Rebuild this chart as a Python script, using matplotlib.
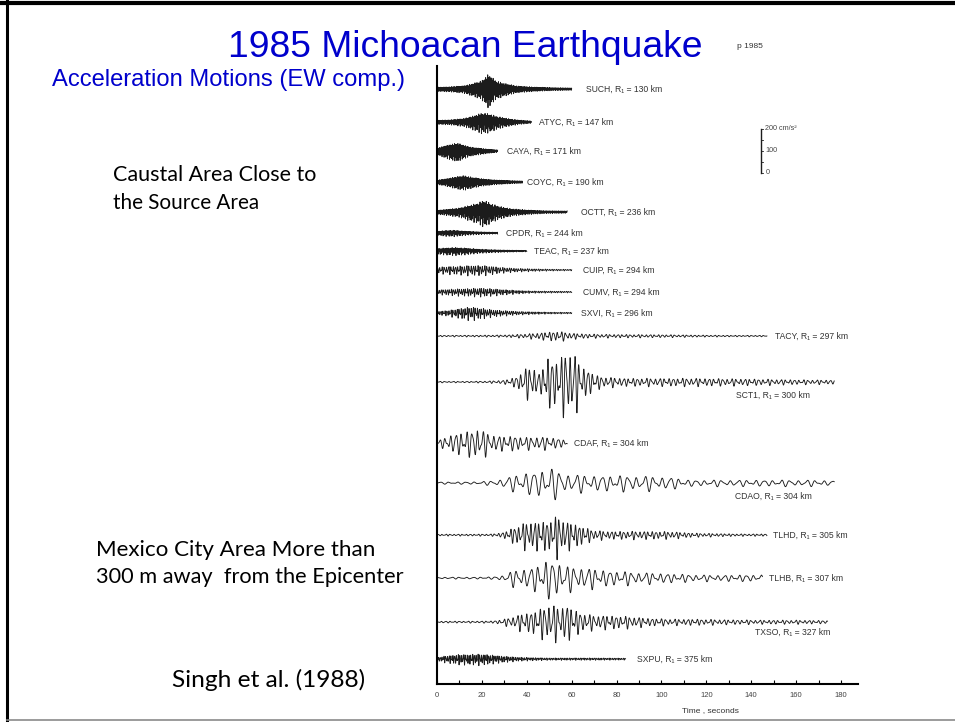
import numpy as np
import matplotlib
matplotlib.use("Agg")
import matplotlib.pyplot as plt
from matplotlib.lines import Line2D

# ---------------------------------------------------------------- data
stations = ["SUCH", "ATYC", "CAYA", "COYC", "OCTT", "CPDR", "TEAC", "CUIP", "CUMV",
            "SXVI", "TACY", "SCT1", "CDAF", "CDAO", "TLHD", "TLHB", "TXSO", "SXPU"]
distances_km = [130, 147, 171, 190, 236, 244, 237, 294, 294,
                296, 297, 300, 304, 304, 305, 307, 327, 375]

# dominant period of each record (s)
periods_s = [0.30, 0.35, 0.30, 0.30, 0.35, 0.45, 0.50, 1.0, 0.9,
             0.9, 1.8, 2.0, 2.4, 3.8, 1.8, 3.2, 2.0, 0.8]

# acceleration envelopes: knot times (s) and peak amplitude (cm/s^2)
such_t = [0, 6, 12, 16, 20, 23, 26, 30, 36, 44, 52, 60]
such_a = [9, 11, 16, 27, 41, 73, 41, 27, 14, 9, 6, 5]
atyc_t = [0, 6, 12, 16, 20, 23, 27, 32, 37, 42]
atyc_a = [9, 11, 18, 30, 45, 41, 27, 16, 9, 5]
caya_t = [0, 3, 6, 9, 12, 15, 19, 23, 27]
caya_a = [14, 25, 34, 41, 30, 20, 14, 9, 5]
coyc_t = [0, 4, 8, 12, 16, 20, 25, 30, 34, 38]
coyc_a = [9, 16, 25, 32, 23, 16, 11, 8, 6, 5]
octt_t = [0, 5, 10, 14, 18, 21, 24, 28, 33, 40, 48, 58]
octt_a = [9, 14, 20, 32, 43, 59, 41, 27, 16, 10, 6, 5]
cpdr_t = [0, 4, 8, 12, 17, 22, 27]
cpdr_a = [9, 13, 14, 10, 7, 5, 4]
teac_t = [0, 4, 8, 13, 18, 24, 30, 35, 40]
teac_a = [13, 16, 18, 15, 10, 7, 5, 4, 3]
cuip_t = [0, 5, 10, 15, 20, 25, 30, 36, 42, 50, 60]
cuip_a = [14, 18, 20, 23, 23, 18, 12, 8, 6, 4, 3]
cumv_t = [0, 5, 10, 15, 20, 25, 30, 36, 42, 50, 60]
cumv_a = [10, 14, 16, 18, 20, 16, 12, 8, 5, 4, 3]
sxvi_t = [0, 4, 8, 12, 16, 20, 25, 30, 36, 42, 50, 60]
sxvi_a = [8, 12, 18, 27, 30, 24, 16, 12, 8, 6, 4, 3]
tacy_t = [0, 20, 30, 36, 42, 48, 54, 60, 66, 75, 90, 105, 120, 135, 147]
tacy_a = [3, 4, 5, 8, 12, 18, 23, 14, 10, 8, 7, 6, 4, 3, 3]
sct1_t = [0, 15, 24, 30, 35, 39, 43, 46, 49, 52, 55, 58, 61, 64, 67, 71, 76,
          85, 100, 115, 130, 145, 160, 177]
sct1_a = [3, 3, 5, 9, 23, 64, 77, 36, 127, 109, 114, 164, 146, 82, 64, 32, 23,
          18, 18, 18, 16, 14, 11, 9]
cdaf_t = [0, 3, 6, 9, 12, 15, 18, 21, 25, 30, 35, 40, 45, 50, 54, 58]
cdaf_a = [9, 23, 41, 50, 55, 59, 77, 55, 41, 32, 36, 27, 32, 27, 23, 14]
cdao_t = [0, 10, 20, 26, 30, 34, 38, 42, 46, 50, 54, 58, 62, 68, 75, 85, 95,
          105, 112, 120, 135, 150, 165, 177]
cdao_a = [5, 5, 7, 11, 23, 36, 45, 55, 64, 73, 59, 45, 41, 36, 36, 36, 32,
          27, 14, 14, 14, 14, 14, 11]
tlhd_t = [0, 15, 25, 30, 34, 38, 42, 46, 50, 54, 58, 62, 66, 70, 76, 85, 95,
          105, 115, 125, 135, 147]
tlhd_a = [4, 4, 5, 14, 36, 55, 68, 64, 73, 96, 64, 55, 36, 23, 18, 18, 18,
          16, 9, 7, 5, 5]
tlhb_t = [0, 15, 25, 30, 34, 38, 42, 46, 50, 54, 58, 62, 66, 70, 76, 82, 90,
          100, 110, 120, 132, 140, 145]
tlhb_a = [4, 4, 5, 14, 36, 45, 50, 68, 91, 82, 55, 55, 50, 45, 36, 32, 27,
          23, 18, 14, 14, 16, 14]
txso_t = [0, 15, 25, 30, 34, 38, 42, 46, 50, 54, 58, 62, 66, 70, 76, 85, 95,
          105, 115, 130, 145, 160, 174]
txso_a = [4, 4, 5, 14, 27, 41, 50, 64, 91, 73, 86, 55, 41, 32, 32, 27, 18,
          14, 14, 11, 9, 9, 7]
sxpu_t = [0, 3, 6, 10, 14, 18, 22, 26, 30, 36, 42, 50, 60, 70, 84]
sxpu_a = [7, 14, 18, 23, 23, 25, 23, 18, 14, 9, 7, 5, 5, 5, 4]

env_times = [such_t, atyc_t, caya_t, coyc_t, octt_t, cpdr_t, teac_t, cuip_t, cumv_t,
             sxvi_t, tacy_t, sct1_t, cdaf_t, cdao_t, tlhd_t, tlhb_t, txso_t, sxpu_t]
env_amps = [such_a, atyc_a, caya_a, coyc_a, octt_a, cpdr_a, teac_a, cuip_a, cumv_a,
            sxvi_a, tacy_a, sct1_a, cdaf_a, cdao_a, tlhd_a, tlhb_a, txso_a, sxpu_a]

time_ticks = list(range(0, 181, 20))
scale_values = [0, 100, 200]

# ---------------------------------------------------------------- layout
W, H, DPI = 955, 722, 100
AX_L, AX_R, AX_T, AX_B = 437, 858, 66, 684       # panel edges (px)
T_MAX = 187.6                                    # time at right end of the axis
GAL_PER_PX = 200.0 / 44.0                        # vertical scale of the traces

row_px = [89, 122, 151, 182, 212, 233, 251, 270, 292, 313, 336, 382,
          443, 483, 535, 578, 622, 659]
label_t = [66.4, 45.5, 31.2, 40.1, 64.2, 30.7, 43.2, 65.1, 65.1, 64.2,
           150.6, 133.2, 61.1, 132.8, 149.7, 148.0, 141.7, 89.1]
label_dy_px = [0] * 18
label_dy_px[11] = 13
label_dy_px[13] = 13
label_dy_px[16] = 10

BLUE = "#0000CC"
INK = "#1c1c1c"

fig = plt.figure(figsize=(W / DPI, H / DPI), dpi=DPI)
fig.patch.set_facecolor("white")
renderer = fig.canvas.get_renderer()


def fig_text(s, x_px, y_px, width_px=None, ha="left", **kw):
    t = fig.text(x_px / W, 1 - y_px / H, s, ha=ha, va="baseline", **kw)
    if width_px is not None:
        bb = t.get_window_extent(renderer)
        t.set_fontsize(t.get_fontsize() * width_px / bb.width)
    return t


# slide frame
fig.add_artist(Line2D([0, 1], [1 - 2.5 / H] * 2, color="black", lw=3.0,
                      transform=fig.transFigure))
fig.add_artist(Line2D([7 / W] * 2, [1 - 720 / H, 1], color="black", lw=2.2,
                      transform=fig.transFigure))
fig.add_artist(Line2D([7 / W, 1], [1 - 720 / H] * 2, color="#8a8a8a", lw=1.2,
                      transform=fig.transFigure))

# slide texts
fig_text("1985 Michoacan Earthquake", 465, 57, width_px=474, ha="center",
         color=BLUE, family="Liberation Sans", fontsize=26)
fig_text("p 1985", 737, 48, color="#333333", family="Liberation Sans", fontsize=6)
fig_text("Acceleration Motions (EW comp.)", 52, 86, width_px=354,
         color=BLUE, family="Liberation Sans", fontsize=17)
fig_text("Caustal Area Close to", 113, 181, width_px=204,
         color="black", family="Lato", fontsize=16)
fig_text("the Source Area", 113, 209, width_px=146,
         color="black", family="Lato", fontsize=16)
fig_text("Mexico City Area More than", 96, 556, width_px=280,
         color="black", family="Lato", fontsize=16)
fig_text("300 m away  from the Epicenter", 96, 583, width_px=309,
         color="black", family="Lato", fontsize=16)
fig_text("Singh et al. (1988)", 172, 687, width_px=193,
         color="black", family="Lato", fontsize=18)

# ---------------------------------------------------------------- seismograms
ax = fig.add_axes([AX_L / W, 1 - AX_B / H, (AX_R - AX_L) / W, (AX_B - AX_T) / H])
ax.set_xlim(0, T_MAX)
ax.set_ylim(0, (AX_B - AX_T) * GAL_PER_PX)
ax.set_facecolor("none")


def carrier(t, period, k):
    w = 2 * np.pi / period
    ph = 0.9 * k
    c = (np.sin(w * t + ph) * (0.72 + 0.28 * np.sin(w * t / 2.7 + 1.3 + ph))
         + 0.33 * np.sin(1.63 * w * t + 2.1 + ph))
    return c / 1.08


for k, (name, dist) in enumerate(zip(stations, distances_km)):
    tk = np.asarray(env_times[k], float)
    ak = np.asarray(env_amps[k], float)
    dt = min(periods_s[k] / 12.0, 0.05)
    t = np.arange(0, tk[-1] + dt / 2, dt)
    base = (AX_B - row_px[k]) * GAL_PER_PX
    acc = np.interp(t, tk, ak) * carrier(t, periods_s[k], k)
    ax.plot(t, base + acc, color=INK, lw=0.65, solid_joinstyle="round")
    ax.text(label_t[k], base - label_dy_px[k] * GAL_PER_PX,
            f"{name}, R\u2081 = {dist} km", ha="left", va="center",
            fontsize=6.2, color="#333333", family=["Liberation Sans", "DejaVu Sans"])

# amplitude scale bar
bar_t = (761 - AX_L) * T_MAX / (AX_R - AX_L)
bar_base = (AX_B - 173) * GAL_PER_PX
ax.plot([bar_t, bar_t], [bar_base, bar_base + scale_values[-1]], color=INK, lw=1.0)
for v in range(0, 201, 50):
    ax.plot([bar_t, bar_t + 1.0], [bar_base + v] * 2, color=INK, lw=0.6)
for v in scale_values:
    lab = f"{v} cm/s\u00b2" if v == scale_values[-1] else f"{v}"
    ax.text(bar_t + 2.0, bar_base + v, lab, ha="left", va="center",
            fontsize=5.2, color="#444444", family=["Liberation Sans", "DejaVu Sans"])

# axes styling
for side in ("top", "right"):
    ax.spines[side].set_visible(False)
ax.spines["left"].set_linewidth(1.5)
ax.spines["bottom"].set_linewidth(1.5)
ax.set_xticks(time_ticks)
ax.set_xticks(np.arange(0, 190, 10), minor=True)
ax.set_yticks([])
ax.tick_params(axis="x", which="both", direction="in", length=3, width=0.8,
               pad=6, labelsize=5.5, labelcolor="#444444")
for lab in ax.get_xticklabels():
    lab.set_family("Liberation Sans")
fig_text("Time , seconds", 710, 712, ha="center", color="#333333",
         family="Liberation Sans", fontsize=6)

fig.savefig("out.png", dpi=DPI, facecolor="white")
